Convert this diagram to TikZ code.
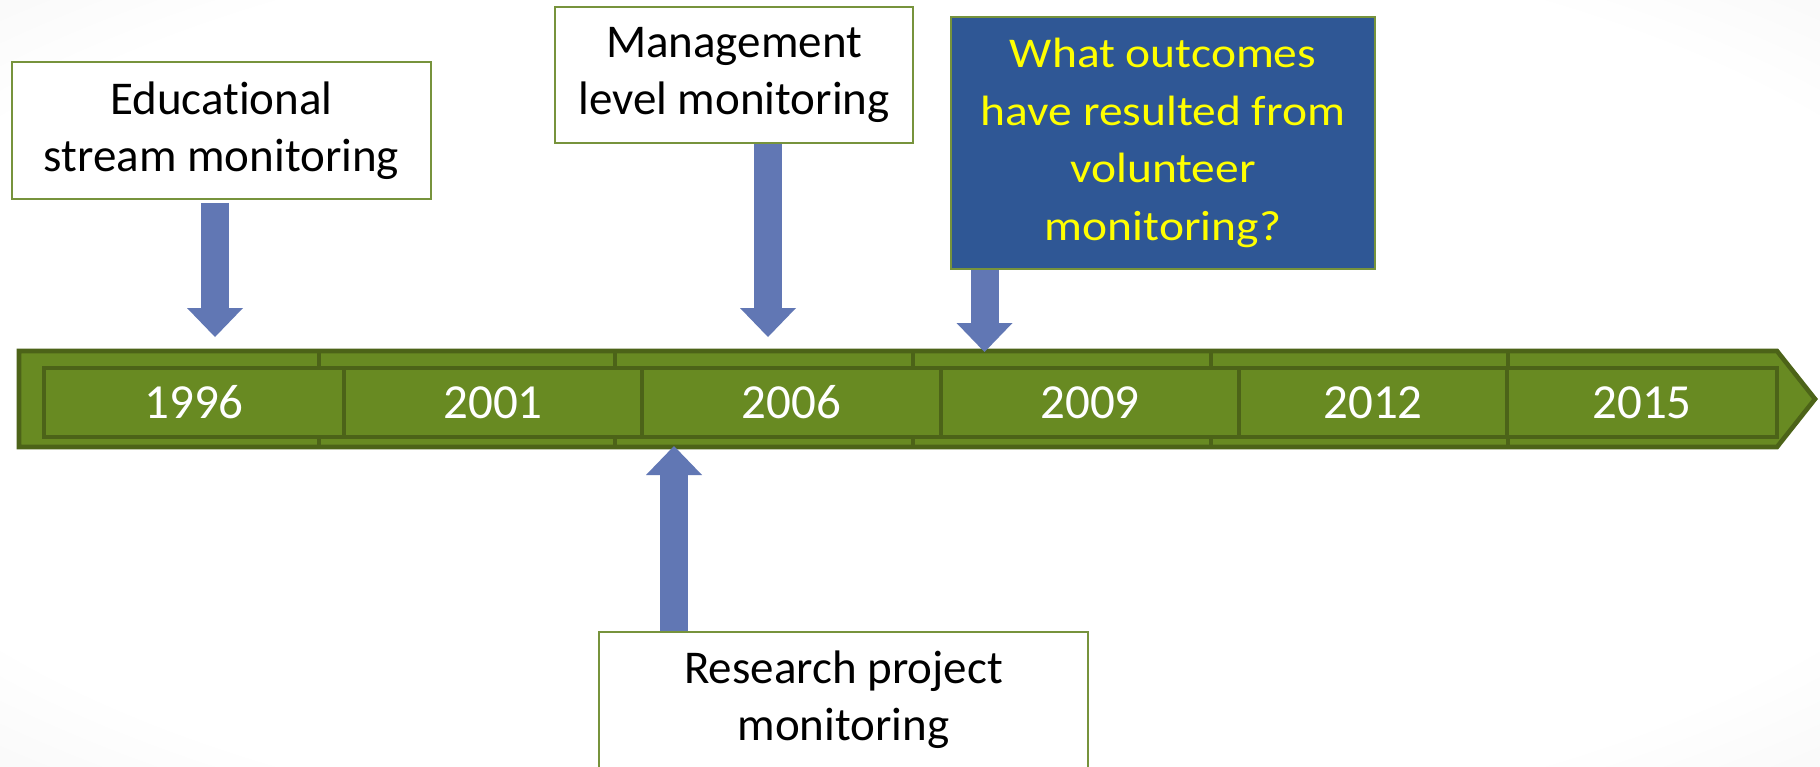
\documentclass[tikz,border=0pt]{standalone}
\usepackage{fontspec}
\setmainfont{Carlito}[Ligatures={NoCommon}]
\newfontfamily\widefont{Carlito}[FakeStretch=1.12, Ligatures={NoCommon}]
\usepackage{tikz}
\usetikzlibrary{arrows.meta}

\definecolor{barfill}{RGB}{104,138,34}
\definecolor{barline}{RGB}{76,99,24}
\definecolor{boxline}{RGB}{119,147,60}
\definecolor{askfill}{RGB}{47,87,149}
\definecolor{asktext}{RGB}{255,255,0}
\definecolor{arrowblue}{RGB}{97,119,180}

\pgfdeclareradialshading{slidebg}{\pgfpoint{0bp}{0bp}}{color(0bp)=(white); color(30bp)=(white); color(50bp)=(black!8); color(71bp)=(black!13)}

\begin{document}
\begin{tikzpicture}[
        x=0.5pt, y=-0.5pt,
        callout/.style={rectangle, draw=boxline, line width=0.8pt, fill=white, align=center, inner sep=0pt, font=\fontsize{23.5}{28.5}\selectfont},
        askbox/.style={callout, fill=askfill, text=asktext, font=\widefont\fontsize{21.2}{28.75}\selectfont},
        yearbox/.style={rectangle, draw=barline, line width=2.2pt, fill=barfill, minimum height=34.5pt, inner sep=0pt, text=white, font=\fontsize{24.5}{29}\selectfont},
        blockarrow/.style={draw=arrowblue, line width=14pt, -{Triangle[width=28pt, length=14.5pt, line width=0pt]}}
    ]
        % slide background
        \shade[shading=slidebg, use as bounding box] (0,0) rectangle (1820,766);

        % Timeline bar
        \path[draw=barline, fill=barfill, line width=2.3pt, line join=miter] (19,351) -- (1777,351) -- (1815,399) -- (1777,447) -- (19,447) -- cycle;
        \foreach \dx in {319,615,913,1211,1508}
            \draw[barline, line width=2.3pt] (\dx,351) -- (\dx,447);

        % Years
        \foreach \yr/\cx/\w in {1996/194/300, 2001/493/298, 2006/791.5/299, 2009/1090/298, 2012/1373/268, 2015/1642/270}
            \node[yearbox, minimum width=\w*0.5pt] (y\yr) at (\cx,402.5) {\yr};

        % Callouts
        \node[callout, minimum width=209.5pt, minimum height=68.5pt] (edu) at (221.5,130.5) {Educational\\stream monitoring};
        \node[callout, minimum width=179pt, minimum height=68pt] (mgmt) at (734,75) {Management\\level monitoring};
        \node[askbox, minimum width=212pt, minimum height=126pt] (ask) at (1163,143) {What outcomes\\have resulted from\\volunteer\\monitoring?};
        \node[callout, minimum width=244.5pt, minimum height=68pt] (res) at (843.5,700) {Research project\\monitoring};

        % Arrows
        \coordinate (t1) at (215,337);
        \coordinate (t2) at (768,337);
        \coordinate (t3) at (984.5,352);
        \coordinate (t4) at (674,446);
        \draw[blockarrow, shorten <=1.5pt] (edu.south -| t1) -- (t1);
        \draw[blockarrow] (mgmt.south -| t2) -- (t2);
        \draw[blockarrow] (ask.south -| t3) -- (t3);
        \draw[blockarrow] (res.north -| t4) -- (t4);
    \end{tikzpicture}
\end{document}
